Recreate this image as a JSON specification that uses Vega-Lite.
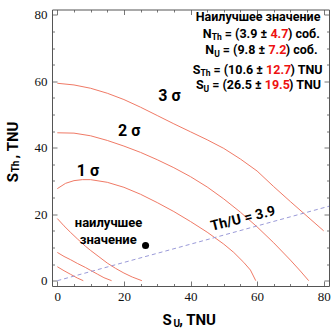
{
  "$schema": "https://vega.github.io/schema/vega-lite/v6.json",
  "width": 277,
  "height": 276.5,
  "autosize": "none",
  "padding": {"left": 52, "top": 9.5, "right": 2, "bottom": 43},
  "background": "white",
  "config": {"view": {"stroke": null}},
  "datasets": {
    "curves": [
      {"c":"s3o","x":0,"y":59.4},{"c":"s3o","x":5,"y":58.9},{"c":"s3o","x":10,"y":57.9},{"c":"s3o","x":15,"y":56.4},{"c":"s3o","x":20,"y":54.5},{"c":"s3o","x":25,"y":52.2},{"c":"s3o","x":30,"y":49.7},{"c":"s3o","x":35,"y":47.2},{"c":"s3o","x":40,"y":44.8},{"c":"s3o","x":45,"y":42.4},{"c":"s3o","x":50,"y":39.8},{"c":"s3o","x":55,"y":36.6},{"c":"s3o","x":60,"y":33.0},{"c":"s3o","x":65,"y":28.3},{"c":"s3o","x":70,"y":23.8},{"c":"s3o","x":75,"y":19.4},{"c":"s3o","x":80,"y":15.0},
      {"c":"s2o","x":0,"y":44.5},{"c":"s2o","x":5,"y":44.4},{"c":"s2o","x":10,"y":43.6},{"c":"s2o","x":15,"y":42.2},{"c":"s2o","x":20,"y":40.5},{"c":"s2o","x":25,"y":38.6},{"c":"s2o","x":30,"y":36.4},{"c":"s2o","x":35,"y":34.0},{"c":"s2o","x":40,"y":31.3},{"c":"s2o","x":45,"y":28.2},{"c":"s2o","x":50,"y":24.6},{"c":"s2o","x":55,"y":20.6},{"c":"s2o","x":60,"y":16.2},{"c":"s2o","x":65,"y":11.4},{"c":"s2o","x":70,"y":6.2},{"c":"s2o","x":73,"y":2.9},{"c":"s2o","x":75.5,"y":0},
      {"c":"s1o","x":0,"y":27.7},{"c":"s1o","x":2.5,"y":29.3},{"c":"s1o","x":5,"y":30.1},{"c":"s1o","x":7.5,"y":30.4},{"c":"s1o","x":10,"y":30.4},{"c":"s1o","x":15,"y":29.6},{"c":"s1o","x":20,"y":28.1},{"c":"s1o","x":25,"y":26.0},{"c":"s1o","x":30,"y":23.5},{"c":"s1o","x":35,"y":20.8},{"c":"s1o","x":40,"y":17.8},{"c":"s1o","x":45,"y":14.6},{"c":"s1o","x":50,"y":11.0},{"c":"s1o","x":53,"y":8.5},{"c":"s1o","x":56,"y":5.5},{"c":"s1o","x":58,"y":3.2},{"c":"s1o","x":59.6,"y":0},
      {"c":"s1i","x":0,"y":18.7},{"c":"s1i","x":2,"y":16.5},{"c":"s1i","x":4,"y":14.5},{"c":"s1i","x":6,"y":12.6},{"c":"s1i","x":8.4,"y":10.4},{"c":"s1i","x":10,"y":9.1},{"c":"s1i","x":12.5,"y":7.2},{"c":"s1i","x":15,"y":5.3},{"c":"s1i","x":17.5,"y":3.7},{"c":"s1i","x":20,"y":2.3},{"c":"s1i","x":22.5,"y":1.1},{"c":"s1i","x":25.4,"y":0},
      {"c":"s2i","x":0,"y":8.5},{"c":"s2i","x":2,"y":7.3},{"c":"s2i","x":4,"y":6.3},{"c":"s2i","x":6,"y":5.2},{"c":"s2i","x":8.4,"y":4.0},{"c":"s2i","x":10,"y":3.1},{"c":"s2i","x":12,"y":2.0},{"c":"s2i","x":14,"y":0.9},{"c":"s2i","x":16.3,"y":0},
      {"c":"s3i","x":0,"y":4.2},{"c":"s3i","x":2,"y":3.0},{"c":"s3i","x":4,"y":1.9},{"c":"s3i","x":6,"y":0.8},{"c":"s3i","x":7.8,"y":0}
    ],
    "ratio": [{"x":0,"y":0},{"x":81.6,"y":22.4}],
    "best": [{"x":26.5,"y":10.6}],
    "ann": [
      {"k":"sig","t":"3 σ","x":33.7,"y":55.6},
      {"k":"sig","t":"2 σ","x":21.6,"y":45.0},
      {"k":"sig","t":"1 σ","x":9.2,"y":33.0},
      {"k":"ratio","t":"Th/U = 3.9","x":55.8,"y":18.6},
      {"k":"lbl","t":"наилучшее","x":15.4,"y":17.3},
      {"k":"lbl","t":"значение","x":15.3,"y":12.2},
      {"k":"head","t":"Наилучшее значение","x":60.3,"y":79.2},
      {"k":"main","t":"N","x":43.7,"y":74.3},
      {"k":"main","t":"= (3.9 ±","x":50.3,"y":74.3},
      {"k":"main","t":") соб.","x":69.3,"y":74.3},
      {"k":"main","t":"N","x":44.4,"y":69.3},
      {"k":"main","t":"= (9.8 ±","x":49.7,"y":69.3},
      {"k":"main","t":") соб.","x":68.6,"y":69.3},
      {"k":"main","t":"S","x":40.7,"y":63.5},
      {"k":"main","t":"= (10.6 ±","x":46.9,"y":63.5},
      {"k":"main","t":") TNU","x":70.05,"y":63.5},
      {"k":"main","t":"S","x":41.65,"y":58.8},
      {"k":"main","t":"= (26.5 ±","x":46.5,"y":58.8},
      {"k":"main","t":") TNU","x":69.6,"y":58.8},
      {"k":"err","t":"4.7","x":64.0,"y":74.3},
      {"k":"err","t":"7.2","x":63.4,"y":69.3},
      {"k":"err","t":"12.7","x":62.7,"y":63.5},
      {"k":"err","t":"19.5","x":62.3,"y":58.8},
      {"k":"sub","t":"Th","x":46.4,"y":73.3},
      {"k":"sub","t":"U","x":47.1,"y":68.3},
      {"k":"sub","t":"Th","x":43.0,"y":62.5},
      {"k":"sub","t":"U","x":43.9,"y":57.8},
      {"k":"xmain","t":"S","x":31.6,"y":-11.9},
      {"k":"xsub","t":"U","x":34.9,"y":-12.9},
      {"k":"xmain","t":", TNU","x":36.6,"y":-11.9},
      {"k":"ymain","t":"S","x":-13.4,"y":29.6},
      {"k":"ysub","t":"Th","x":-12.4,"y":32.6},
      {"k":"ymain","t":", TNU","x":-13.4,"y":36.8}
    ]
  },
  "resolve": {"axis": {"x": "independent", "y": "independent"}},
  "layer": [
    {
      "data": {"name": "curves"},
      "mark": {"type": "line", "color": "#f07a66", "strokeWidth": 1, "clip": true},
      "encoding": {
        "x": {"field": "x", "type": "quantitative", "scale": {"domain": [-1.6, 81.6], "nice": false, "zero": false},
          "axis": {"orient": "bottom", "title": null, "grid": false, "values": [0,5,10,15,20,25,30,35,40,45,50,55,60,65,70,75,80],
            "labelExpr": "datum.value % 20 === 0 ? datum.label : ''", "labelFont": "Liberation Serif", "labelFontSize": 13, "labelColor": "#111",
            "labelPadding": 9, "labelFlush": false, "labelOverlap": false, "domainColor": "#555", "tickColor": "#777",
            "tickSize": {"condition": {"test": "datum.value % 20 === 0", "value": -5}, "value": -2.5}}},
        "y": {"field": "y", "type": "quantitative", "scale": {"domain": [-1.6, 81.6], "nice": false, "zero": false},
          "axis": {"orient": "left", "title": null, "grid": false, "values": [0,5,10,15,20,25,30,35,40,45,50,55,60,65,70,75,80],
            "labelExpr": "datum.value % 20 === 0 ? datum.label : ''", "labelFont": "Liberation Serif", "labelFontSize": 13, "labelColor": "#111",
            "labelPadding": 10, "labelFlush": false, "labelOverlap": false, "domainColor": "#555", "tickColor": "#777",
            "tickSize": {"condition": {"test": "datum.value % 20 === 0", "value": -5}, "value": -2.5}}},
        "detail": {"field": "c"}
      }
    },
    {
      "data": {"name": "ratio"},
      "mark": {"type": "line", "color": "#9a9ad8", "strokeWidth": 1, "strokeDash": [4, 3], "clip": true},
      "encoding": {
        "x": {"field": "x", "type": "quantitative", "scale": {"domain": [-1.6, 81.6], "nice": false, "zero": false},
          "axis": {"orient": "top", "title": null, "grid": false, "labels": false, "values": [0,5,10,15,20,25,30,35,40,45,50,55,60,65,70,75,80],
            "domainColor": "#555", "tickColor": "#777",
            "tickSize": {"condition": {"test": "datum.value % 20 === 0", "value": -5}, "value": -2.5}}},
        "y": {"field": "y", "type": "quantitative", "scale": {"domain": [-1.6, 81.6], "nice": false, "zero": false},
          "axis": {"orient": "right", "title": null, "grid": false, "labels": false, "values": [0,5,10,15,20,25,30,35,40,45,50,55,60,65,70,75,80],
            "domainColor": "#555", "tickColor": "#777",
            "tickSize": {"condition": {"test": "datum.value % 20 === 0", "value": -5}, "value": -2.5}}}
      }
    },
    {
      "data": {"name": "best"},
      "mark": {"type": "point", "filled": true, "color": "#000", "size": 50, "opacity": 1},
      "encoding": {
        "x": {"field": "x", "type": "quantitative", "scale": {"domain": [-1.6, 81.6], "nice": false, "zero": false}, "axis": null},
        "y": {"field": "y", "type": "quantitative", "scale": {"domain": [-1.6, 81.6], "nice": false, "zero": false}, "axis": null}
      }
    },
    {
      "data": {"name": "ann"},
      "transform": [{"filter": "datum.k === 'sig'"}],
      "mark": {"type": "text", "font": "Roboto", "fontWeight": "bold", "fontSize": 16, "align": "center", "baseline": "middle", "color": "#000"},
      "encoding": {
        "x": {"field": "x", "type": "quantitative", "axis": null},
        "y": {"field": "y", "type": "quantitative", "axis": null},
        "text": {"field": "t"}
      }
    },
    {
      "data": {"name": "ann"},
      "transform": [{"filter": "datum.k === 'ratio'"}],
      "mark": {"type": "text", "font": "Roboto", "fontWeight": "bold", "fontSize": 14, "align": "center", "baseline": "middle", "angle": 346, "color": "#000"},
      "encoding": {
        "x": {"field": "x", "type": "quantitative", "axis": null},
        "y": {"field": "y", "type": "quantitative", "axis": null},
        "text": {"field": "t"}
      }
    },
    {
      "data": {"name": "ann"},
      "transform": [{"filter": "datum.k === 'lbl'"}],
      "mark": {"type": "text", "font": "Roboto", "fontWeight": "bold", "fontSize": 13, "align": "center", "baseline": "middle", "color": "#000"},
      "encoding": {
        "x": {"field": "x", "type": "quantitative", "axis": null},
        "y": {"field": "y", "type": "quantitative", "axis": null},
        "text": {"field": "t"}
      }
    },
    {
      "data": {"name": "ann"},
      "transform": [{"filter": "datum.k === 'head'"}],
      "mark": {"type": "text", "font": "Roboto", "fontWeight": "bold", "fontSize": 12.5, "align": "center", "baseline": "middle", "color": "#000"},
      "encoding": {
        "x": {"field": "x", "type": "quantitative", "axis": null},
        "y": {"field": "y", "type": "quantitative", "axis": null},
        "text": {"field": "t"}
      }
    },
    {
      "data": {"name": "ann"},
      "transform": [{"filter": "datum.k === 'main'"}],
      "mark": {"type": "text", "font": "Roboto", "fontWeight": "bold", "fontSize": 12.5, "align": "left", "baseline": "middle", "color": "#000"},
      "encoding": {
        "x": {"field": "x", "type": "quantitative", "axis": null},
        "y": {"field": "y", "type": "quantitative", "axis": null},
        "text": {"field": "t"}
      }
    },
    {
      "data": {"name": "ann"},
      "transform": [{"filter": "datum.k === 'err'"}],
      "mark": {"type": "text", "font": "Roboto", "fontWeight": "bold", "fontSize": 12.5, "align": "left", "baseline": "middle", "color": "#ee1111"},
      "encoding": {
        "x": {"field": "x", "type": "quantitative", "axis": null},
        "y": {"field": "y", "type": "quantitative", "axis": null},
        "text": {"field": "t"}
      }
    },
    {
      "data": {"name": "ann"},
      "transform": [{"filter": "datum.k === 'sub'"}],
      "mark": {"type": "text", "font": "Roboto", "fontWeight": "bold", "fontSize": 8.5, "align": "left", "baseline": "middle", "color": "#000"},
      "encoding": {
        "x": {"field": "x", "type": "quantitative", "axis": null},
        "y": {"field": "y", "type": "quantitative", "axis": null},
        "text": {"field": "t"}
      }
    },
    {
      "data": {"name": "ann"},
      "transform": [{"filter": "datum.k === 'xmain'"}],
      "mark": {"type": "text", "font": "Roboto", "fontWeight": "bold", "fontSize": 15, "align": "left", "baseline": "middle", "color": "#000"},
      "encoding": {
        "x": {"field": "x", "type": "quantitative", "axis": null},
        "y": {"field": "y", "type": "quantitative", "axis": null},
        "text": {"field": "t"}
      }
    },
    {
      "data": {"name": "ann"},
      "transform": [{"filter": "datum.k === 'xsub'"}],
      "mark": {"type": "text", "font": "Roboto", "fontWeight": "bold", "fontSize": 10, "align": "left", "baseline": "middle", "color": "#000"},
      "encoding": {
        "x": {"field": "x", "type": "quantitative", "axis": null},
        "y": {"field": "y", "type": "quantitative", "axis": null},
        "text": {"field": "t"}
      }
    },
    {
      "data": {"name": "ann"},
      "transform": [{"filter": "datum.k === 'ymain'"}],
      "mark": {"type": "text", "font": "Roboto", "fontWeight": "bold", "fontSize": 15, "align": "left", "baseline": "middle", "angle": 270, "color": "#000"},
      "encoding": {
        "x": {"field": "x", "type": "quantitative", "axis": null},
        "y": {"field": "y", "type": "quantitative", "axis": null},
        "text": {"field": "t"}
      }
    },
    {
      "data": {"name": "ann"},
      "transform": [{"filter": "datum.k === 'ysub'"}],
      "mark": {"type": "text", "font": "Roboto", "fontWeight": "bold", "fontSize": 10, "align": "left", "baseline": "middle", "angle": 270, "color": "#000"},
      "encoding": {
        "x": {"field": "x", "type": "quantitative", "axis": null},
        "y": {"field": "y", "type": "quantitative", "axis": null},
        "text": {"field": "t"}
      }
    }
  ]
}
